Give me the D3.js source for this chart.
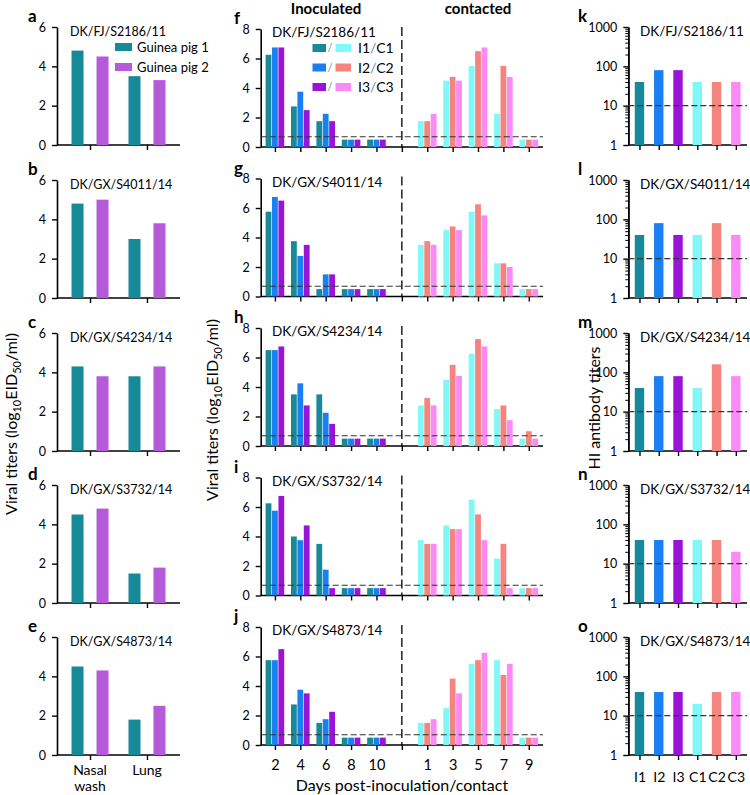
<!DOCTYPE html>
<html><head><meta charset="utf-8">
<script src="https://cdn.jsdelivr.net/npm/d3@7"></script>
<style>
body{margin:0;background:#fff;}
text{font-family:Lato,"Noto Sans",sans-serif;fill:#000;}
</style></head>
<body><svg id="chart" width="750" height="795"></svg>
<script>
// ---------- DATA ----------
const strains = ["DK/FJ/S2186/11","DK/GX/S4011/14","DK/GX/S4234/14","DK/GX/S3732/14","DK/GX/S4873/14"];
const leftLetters = ["a","b","c","d","e"];
const midLetters = ["f","g","h","i","j"];
const rightLetters = ["k","l","m","n","o"];
const tissues = ["Nasal wash","Lung"];
const gp1 = [[4.8,3.5],[4.8,3.0],[4.3,3.8],[4.5,1.5],[4.5,1.8]];
const gp2 = [[4.5,3.3],[5.0,3.8],[3.8,4.3],[4.8,1.8],[4.3,2.5]];
const inocDays = ["2","4","6","8","10"];
const contactDays = ["1","3","5","7","9"];
const I1 = [[6.25,2.75,1.75,0.5,0.5],[5.75,3.75,0.5,0.5,0.5],[6.5,3.5,3.5,0.5,0.5],[6.25,4.0,3.5,0.5,0.5],[5.75,2.75,1.5,0.5,0.5]];
const I2 = [[6.75,3.75,2.25,0.5,0.5],[6.75,2.75,1.5,0.5,0.5],[6.5,4.25,2.25,0.5,0.5],[5.75,3.75,1.75,0.5,0.5],[5.75,3.75,1.75,0.5,0.5]];
const I3 = [[6.75,2.5,1.75,0.5,0.5],[6.5,3.5,1.5,0.5,0.5],[6.75,2.75,1.5,0.5,0.5],[6.75,4.75,0.5,0.5,0.5],[6.5,3.5,2.25,0.5,0.5]];
const C1 = [[1.75,4.5,5.5,2.25,0.5],[3.5,4.5,5.75,2.25,0.5],[2.75,4.5,6.25,2.5,0.5],[3.75,4.75,6.5,2.5,0.5],[1.5,2.5,5.5,5.75,0.5]];
const C2 = [[1.75,4.75,6.5,5.5,0.5],[3.75,4.75,6.25,2.25,0.5],[3.25,5.5,7.25,2.75,1.0],[3.5,4.5,5.5,3.5,0.5],[1.5,4.5,5.75,4.75,0.5]];
const C3 = [[2.25,4.5,6.75,4.75,0.5],[3.5,4.5,5.5,2.0,0.5],[2.75,4.75,6.75,1.75,0.5],[3.5,4.5,3.75,0.5,0.5],[1.75,3.5,6.25,5.5,0.5]];
const detectionLimit = 0.7;
const hiGroups = ["I1","I2","I3","C1","C2","C3"];
const HI = [[40,80,80,40,40,40],[40,80,40,40,80,40],[40,80,80,40,160,80],[40,40,40,40,40,20],[40,40,40,20,40,40]];
const hiLimit = 10;
const leftTicks = [0,2,4,6];
const midTicks = [0,2,4,6,8];
const hiTicks = [1,10,100,1000];

// ---------- STYLE ----------
const col = {I1:"#178a99",I2:"#1a80f0",I3:"#9a14d8",C1:"#80f8f8",C2:"#f5847f",C3:"#fa8af6",gp2:"#b55ad8"};
const slashCol = "#5a8fb8";
const svg = d3.select("#chart");
svg.append("rect").attr("width",750).attr("height",795).attr("fill","#fff");

const leftTop = [27,180,333,485,637], leftH = 118;
const midTop = [29,178.5,328,477.5,627], midH = 118;
const rightTop = leftTop;
const tickFont = "12.5px";

function styleAxis(g){
  g.select(".domain").attr("stroke","#000").attr("stroke-width",1.6);
  g.selectAll(".tick line").attr("stroke","#000").attr("stroke-width",1.4);
  g.selectAll(".tick text").style("font-size",tickFont).style("font-family","Lato,'Noto Sans',sans-serif");
}

// ---------- LEFT COLUMN ----------
const lx0 = 57, lx1 = 180;
const xL = d3.scalePoint().domain(tissues).range([lx0,lx1]).padding(0.58);
strains.forEach((s,k)=>{
  const y = d3.scaleLinear().domain([0,6]).range([leftTop[k]+leftH, leftTop[k]]);
  const g = svg.append("g");
  g.append("g").attr("transform",`translate(${lx0},0)`).call(d3.axisLeft(y).tickValues(leftTicks).tickFormat(d3.format("d")).tickSize(5).tickSizeOuter(0).tickPadding(6)).call(styleAxis);
  const xa = g.append("g").attr("transform",`translate(0,${y(0)})`).call(d3.axisBottom(xL).tickSize(5).tickSizeOuter(0).tickFormat("")).call(styleAxis);
  xa.select(".domain").attr("d",`M${lx0},0H${lx1}`);
  tissues.forEach((t,i)=>{
    g.append("rect").attr("x",xL(t)-12.5-6).attr("width",12).attr("y",y(gp1[k][i])).attr("height",y(0)-y(gp1[k][i])).attr("fill",col.I1);
    g.append("rect").attr("x",xL(t)+12.5-6).attr("width",12).attr("y",y(gp2[k][i])).attr("height",y(0)-y(gp2[k][i])).attr("fill",col.gp2);
  });
  g.append("text").attr("x",70).attr("y",leftTop[k]+9).style("font-size","12.5px").text(s);
  g.append("text").attr("x",28).attr("y",leftTop[k]-5).style("font-size","17px").style("font-weight","bold").text(leftLetters[k]);
});
// legend a
[["Guinea pig 1",col.I1],["Guinea pig 2",col.gp2]].forEach((d,i)=>{
  svg.append("rect").attr("x",115).attr("y",43+i*20).attr("width",17).attr("height",8).attr("fill",d[1]);
  svg.append("text").attr("x",137).attr("y",52+i*20).style("font-size","13px").text(d[0]);
});
svg.append("text").attr("x",xL("Nasal wash")).attr("y",775).attr("text-anchor","middle").style("font-size","14px").text("Nasal");
svg.append("text").attr("x",xL("Nasal wash")).attr("y",791).attr("text-anchor","middle").style("font-size","14px").text("wash");
svg.append("text").attr("x",xL("Lung")).attr("y",775).attr("text-anchor","middle").style("font-size","14px").text("Lung");

function yLabel(x,cy){
  const t = svg.append("text").attr("transform",`translate(${x},${cy}) rotate(-90)`).attr("text-anchor","middle").style("font-size","16px");
  t.append("tspan").text("Viral titers (log");
  t.append("tspan").attr("dy",4).style("font-size","11px").text("10");
  t.append("tspan").attr("dy",-4).text("EID");
  t.append("tspan").attr("dy",4).style("font-size","11px").text("50");
  t.append("tspan").attr("dy",-4).text("/ml)");
}
yLabel(17,424);

// ---------- MIDDLE COLUMN ----------
const mx0 = 260.7, mx1 = 543;
const midKeys = inocDays.map(d=>"i"+d).concat(["sep"]).concat(contactDays.map(d=>"c"+d));
const xM = d3.scalePoint().domain(midKeys).range([mx0,mx1]).padding(0.56);
const bw = 5.8, off = 6.4;
strains.forEach((s,k)=>{
  const y = d3.scaleLinear().domain([0,8]).range([midTop[k]+midH, midTop[k]]);
  const g = svg.append("g");
  g.append("g").attr("transform",`translate(${mx0},0)`).call(d3.axisLeft(y).tickValues(midTicks).tickFormat(d3.format("d")).tickSize(5).tickSizeOuter(0).tickPadding(6)).call(styleAxis);
  const xa = g.append("g").attr("transform",`translate(0,${y(0)})`)
    .call(d3.axisBottom(xM).tickSize(5).tickSizeOuter(0).tickPadding(10)
      .tickFormat(d=> k===4 && d!=="sep" ? d.slice(1) : "")).call(styleAxis);
  xa.select(".domain").attr("d",`M${mx0},0H${mx1}`);
  xa.selectAll(".tick text").style("font-size","14.5px");
  const ser = [[I1,I2,I3],[C1,C2,C3]];
  const cols = [[col.I1,col.I2,col.I3],[col.C1,col.C2,col.C3]];
  [inocDays.map(d=>"i"+d), contactDays.map(d=>"c"+d)].forEach((keys,h)=>{
    keys.forEach((key,di)=>{
      ser[h].forEach((arr,si)=>{
        const v = arr[k][di];
        g.append("rect").attr("x",xM(key)+(si-1)*off-bw/2).attr("width",bw)
          .attr("y",y(v)).attr("height",y(0)-y(v)).attr("fill",cols[h][si]);
      });
    });
  });
  g.append("line").attr("x1",mx0).attr("x2",mx1).attr("y1",y(detectionLimit)).attr("y2",y(detectionLimit))
    .attr("stroke","#333").attr("stroke-width",1.1).attr("stroke-dasharray","6,3");
  g.append("line").attr("x1",xM("sep")).attr("x2",xM("sep")).attr("y1",y(8)-2).attr("y2",y(0))
    .attr("stroke","#000").attr("stroke-width",1.3).attr("stroke-dasharray","9,4");
  g.append("text").attr("x",272).attr("y",midTop[k]+8).style("font-size","13.5px").text(s);
  g.append("text").attr("x",234).attr("y",midTop[k]-5).style("font-size","17px").style("font-weight","bold").text(midLetters[k]);
});
svg.append("text").attr("x",326).attr("y",14).attr("text-anchor","middle").style("font-size","15px").style("font-weight","bold").text("Inoculated");
svg.append("text").attr("x",478).attr("y",14).attr("text-anchor","middle").style("font-size","15px").style("font-weight","bold").text("contacted");
// legend f
[["I1","C1",col.I1,col.C1],["I2","C2",col.I2,col.C2],["I3","C3",col.I3,col.C3]].forEach((d,i)=>{
  const yy = 44+i*19.5;
  svg.append("rect").attr("x",312.5).attr("y",yy).attr("width",13.5).attr("height",8).attr("fill",d[2]);
  svg.append("text").attr("x",327.5).attr("y",yy+8).style("font-size","11px").style("fill",slashCol).text("/");
  svg.append("rect").attr("x",335.5).attr("y",yy).attr("width",15.5).attr("height",8).attr("fill",d[3]);
  const t = svg.append("text").attr("x",358).attr("y",yy+9).style("font-size","14px");
  t.append("tspan").text(d[0]);
  t.append("tspan").style("fill",slashCol).text("/");
  t.append("tspan").text(d[1]);
});
svg.append("text").attr("x",402).attr("y",790.5).attr("text-anchor","middle").style("font-size","16px").text("Days post-inoculation/contact");
yLabel(218,410);

// ---------- RIGHT COLUMN ----------
const rx0 = 628.3, rx1 = 747;
const xR = d3.scalePoint().domain(hiGroups).range([rx0,rx1]).padding(0.58);
const minorTicks = [];
[1,10,100].forEach(b=>{for(let m=2;m<=9;m++) minorTicks.push(b*m);});
strains.forEach((s,k)=>{
  const y = d3.scaleLog().domain([1,1000]).range([rightTop[k]+leftH, rightTop[k]]);
  const g = svg.append("g");
  g.append("g").attr("transform",`translate(${rx0},0)`).call(d3.axisLeft(y).tickValues(minorTicks).tickSize(3).tickSizeOuter(0).tickFormat("")).call(styleAxis)
    .selectAll(".tick line").attr("stroke-width",1);
  g.append("g").attr("transform",`translate(${rx0},0)`).call(d3.axisLeft(y).tickValues(hiTicks).tickSize(5).tickSizeOuter(0).tickPadding(6).tickFormat(d3.format("d"))).call(styleAxis);
  const xa = g.append("g").attr("transform",`translate(0,${y(1)})`)
    .call(d3.axisBottom(xR).tickSize(5).tickSizeOuter(0).tickPadding(12).tickFormat(d=> k===4 ? d : "")).call(styleAxis);
  xa.select(".domain").attr("d",`M${rx0},0H${rx1}`);
  xa.selectAll(".tick text").style("font-size","14px");
  hiGroups.forEach((gname,i)=>{
    const v = HI[k][i];
    g.append("rect").attr("x",xR(gname)-4.7).attr("width",9.4).attr("y",y(v)).attr("height",y(1)-y(v)).attr("fill",col[gname]);
  });
  g.append("line").attr("x1",rx0).attr("x2",rx1).attr("y1",y(hiLimit)).attr("y2",y(hiLimit))
    .attr("stroke","#333").attr("stroke-width",1.1).attr("stroke-dasharray","6,3");
  g.append("text").attr("x",640).attr("y",rightTop[k]+9).style("font-size","13.5px").text(s);
  g.append("text").attr("x",578).attr("y",rightTop[k]-5).style("font-size","17px").style("font-weight","bold").text(rightLetters[k]);
});
svg.append("text").attr("transform","translate(600,408) rotate(-90)").attr("text-anchor","middle").style("font-size","16px").text("HI antibody titers");
</script></body></html>
